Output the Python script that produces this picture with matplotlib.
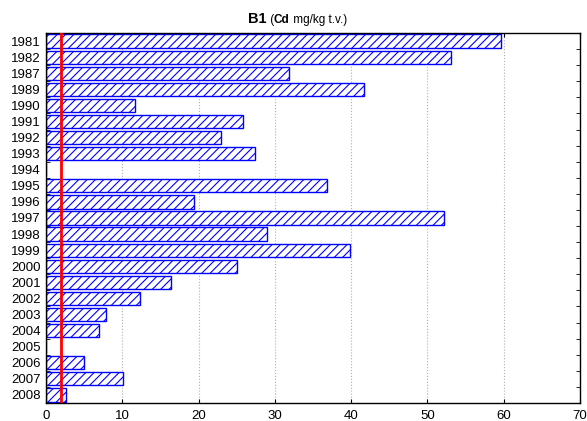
import matplotlib
matplotlib.use("Agg")
import matplotlib.pyplot as plt
import numpy as np

plt.rcParams["font.family"] = ["Liberation Sans", "DejaVu Sans"]
plt.rcParams["hatch.linewidth"] = 0.8

years = ["1981", "1982", "1987", "1989", "1990", "1991", "1992", "1993", "1994",
         "1995", "1996", "1997", "1998", "1999", "2000", "2001", "2002", "2003",
         "2004", "2005", "2006", "2007", "2008"]
cd_values = [59.6, 53.1, 31.9, 41.7, 11.6, 25.8, 23.0, 27.4, 0.0,
             36.9, 19.4, 52.2, 29.0, 39.8, 25.1, 16.4, 12.3, 7.8,
             6.9, 0.0, 5.0, 10.1, 2.6]
limit_value = 2.0
x_ticks = [0, 10, 20, 30, 40, 50, 60, 70]

fig = plt.figure(figsize=(5.87, 4.21), dpi=100)
ax = fig.add_axes([0.0784, 0.0428, 0.9096, 0.8788])

y = np.arange(len(years))
ax.barh(y, cd_values, height=0.82, color="white", edgecolor="#0000ff",
        hatch="////", linewidth=1.0, zorder=2)
ax.axvline(limit_value, color="red", linewidth=2, zorder=3)

ax.set_xlim(0, 70)
ax.set_ylim(len(years) - 0.5, -0.5)
ax.set_xticks(x_ticks)
ax.set_yticks(y)
ax.set_yticklabels(years)
ax.set_yticks(np.arange(-0.5, len(years), 1.0), minor=True)
ax.tick_params(axis="y", which="major", length=0, labelsize=9.5, pad=4)
ax.tick_params(axis="y", which="minor", direction="in", length=3, left=True, right=True)
ax.tick_params(axis="x", which="major", direction="in", length=3, top=True, bottom=True,
               labelsize=9.5, pad=5)
ax.xaxis.grid(True, linestyle=":", color="#b0b0b0", linewidth=0.8, zorder=0)
ax.set_axisbelow(True)
for s in ax.spines.values():
    s.set_linewidth(1.0)

# title with mixed weights
t1 = fig.text(0.4225, 0.945, "B1", fontsize=10.5, fontweight="bold", va="baseline")
t2 = ax.annotate(" (", xycoords=t1, xy=(1, 0), va="bottom", fontsize=8.5)
t3 = ax.annotate("Cd", xycoords=t2, xy=(1, 0), va="bottom", fontsize=8.5, fontweight="bold")
t4 = ax.annotate(" mg/kg t.v.)", xycoords=t3, xy=(1, 0), va="bottom", fontsize=8.5)

fig.savefig("out.png", dpi=100)
